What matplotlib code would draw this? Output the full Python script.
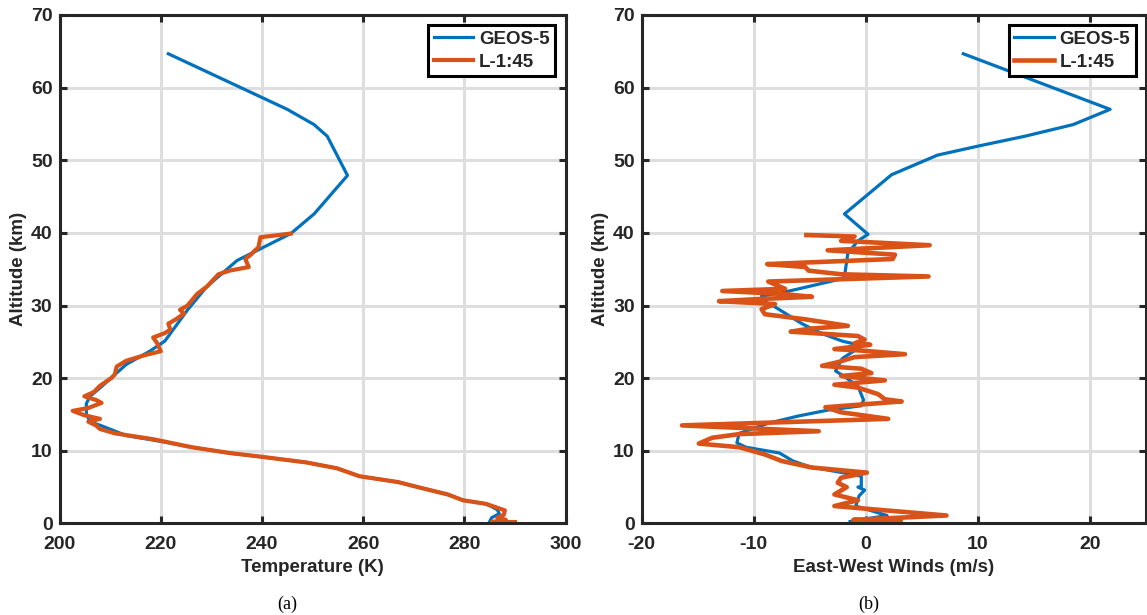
import numpy as np
import matplotlib
matplotlib.use('Agg')
import matplotlib.pyplot as plt

# GEOS-5 temperature profile
geos_temp = [285.0, 285.4, 286.9, 286.5, 284.3, 279.7, 276.7, 271.4, 266.9, 259.3,
             254.8, 248.8, 239.7, 233.6, 226.1, 220.0, 213.2, 208.1, 206.0, 205.3,
             205.3, 206.0, 207.9, 213.2, 217.8, 220.8, 225.3, 229.1, 235.1, 245.7,
             250.3, 256.9, 252.9, 250.3, 245.0, 221.5]
geos_temp_alt = [0.27, 0.8, 1.35, 1.9, 2.7, 3.2, 4.0, 4.9, 5.7, 6.5,
                 7.6, 8.4, 9.2, 9.7, 10.5, 11.3, 12.1, 13.5, 14.0, 15.1,
                 16.5, 17.5, 18.6, 21.9, 23.7, 25.1, 29.4, 32.6, 36.2, 39.9,
                 42.6, 47.9, 53.3, 54.9, 57.0, 64.65]

# lidar temperature L-1:45
lidar_temp = [290.0, 285.4, 288.2, 286.5, 287.8, 288.0, 284.3, 279.7, 276.7, 271.4,
              266.9, 259.3, 254.8, 248.8, 239.7, 233.6, 226.1, 218.5, 211.0, 208.0,
              207.2, 205.7, 208.0, 204.9, 202.6, 205.7, 208.3, 207.2, 204.9, 206.8,
              207.9, 210.2, 210.9, 211.3, 213.2, 217.0, 220.0, 219.3, 218.5, 220.8,
              221.9, 221.5, 223.0, 224.6, 223.8, 225.3, 227.2, 229.1, 231.4, 233.6,
              237.4, 236.7, 237.8, 238.5, 239.3, 239.7, 245.7]
lidar_temp_alt = [0.2, 0.2, 0.5, 0.8, 1.2, 1.8, 2.7, 3.2, 4.0, 4.9,
                  5.7, 6.5, 7.6, 8.4, 9.2, 9.7, 10.5, 11.6, 12.4, 13.0,
                  13.5, 14.0, 14.4, 14.9, 15.5, 15.9, 16.6, 17.0, 17.5, 18.1,
                  18.9, 20.0, 20.5, 21.6, 22.4, 23.2, 23.7, 24.8, 25.6, 26.2,
                  26.7, 27.5, 28.1, 28.9, 29.4, 30.0, 31.6, 32.6, 34.3, 34.8,
                  35.3, 36.4, 37.0, 37.5, 38.0, 39.4, 39.9]

# GEOS-5 zonal wind
geos_wind = [-1.4, 1.9, -0.9, -0.6, -0.1, -0.7, -0.4, -0.4, -2.1, -5.0,
             -6.5, -7.7, -10.7, -11.5, -11.3, -8.7, -6.0, -3.4, -0.4, -0.2,
             -0.7, -1.7, -2.7, -2.1, -1.1, -0.7, -2.1, -4.0, -5.7, -8.3,
             -9.0, -9.3, -7.4, -5.7, -2.1, -1.9, -1.6, -0.7, 0.2, -1.9,
             2.3, 6.4, 10.2, 14.2, 18.5, 21.8, 8.7]
geos_wind_alt = [0.27, 1.1, 2.4, 3.8, 4.6, 5.0, 5.1, 6.5, 7.0, 7.8,
                 8.6, 9.7, 10.5, 11.1, 12.4, 13.8, 14.8, 15.6, 16.2, 17.0,
                 18.9, 20.0, 21.0, 22.7, 23.7, 24.6, 25.1, 26.2, 27.5, 30.0,
                 30.5, 31.3, 31.8, 32.4, 33.7, 34.0, 37.2, 38.9, 39.8, 42.6,
                 48.0, 50.7, 52.0, 53.3, 54.9, 57.0, 64.65]

# lidar zonal wind L-1:45
lidar_wind = [3.1, -1.1, 7.2, -2.8, -0.7, -2.8, -1.7, -2.5, -2.2, 0.1,
              -4.8, -7.5, -9.0, -11.3, -14.9, -13.7, -11.3, -4.2, -16.4, 2.0,
              -2.2, -3.6, 3.2, 1.7, 1.1, -0.7, -2.8, 1.7, -2.2, 0.5,
              -0.4, -3.9, -2.5, -1.0, 3.5, -0.4, -2.8, 0.4, -1.0, -0.1,
              -0.7, -6.7, -5.1, -1.6, -5.4, -9.0, -9.3, -8.1, -13.1, -9.4,
              -4.8, -7.5, -12.8, -7.2, -8.7, 5.6, -2.2, -5.1, -5.4, -8.8,
              2.4, 2.6, -3.4, 5.7, -2.2, -1.0, -5.3]
lidar_wind_alt = [0.2, 0.5, 1.1, 2.4, 3.2, 4.0, 5.0, 5.6, 6.3, 7.0,
                  7.7, 8.6, 9.5, 10.5, 11.0, 11.8, 12.3, 12.7, 13.5, 14.4,
                  15.3, 16.0, 16.8, 17.1, 17.8, 18.7, 19.1, 19.7, 20.3, 20.7,
                  21.3, 21.7, 22.2, 22.9, 23.3, 23.8, 24.0, 24.6, 24.8, 25.3,
                  25.8, 26.4, 26.8, 27.2, 28.1, 28.8, 29.5, 30.2, 30.6, 30.9,
                  31.2, 31.6, 32.0, 32.3, 33.3, 34.0, 34.3, 34.8, 35.3, 35.7,
                  36.4, 37.0, 37.6, 38.3, 38.9, 39.5, 39.7]

temp_ticks = [200, 220, 240, 260, 280, 300]
wind_ticks = [-20, -10, 0, 10, 20]
alt_ticks = [0, 10, 20, 30, 40, 50, 60, 70]

blue = '#0072BD'
orange = '#D95319'
dark = '#262626'

plt.rcParams['font.family'] = ['Liberation Sans', 'DejaVu Sans']
plt.rcParams['font.weight'] = 'bold'
plt.rcParams['axes.labelweight'] = 'bold'
plt.rcParams['axes.unicode_minus'] = False

fig = plt.figure(figsize=(11.47, 6.15), dpi=100)
ax1 = fig.add_axes([0.0519, 0.1488, 0.4412, 0.827])
ax2 = fig.add_axes([0.5594, 0.1488, 0.4397, 0.827])

panels = [
    (ax1, geos_temp, geos_temp_alt, lidar_temp, lidar_temp_alt, (200, 300), temp_ticks, 'Temperature (K)', 3.0),
    (ax2, geos_wind, geos_wind_alt, lidar_wind, lidar_wind_alt, (-20, 25), wind_ticks, 'East-West Winds (m/s)', 3.3),
]

for ax, gx, gy, lx, ly, xlim, xt, xlabel, lw in panels:
    ax.plot(gx, gy, color=blue, lw=2.3, label='GEOS-5', solid_joinstyle='round')
    ax.plot(lx, ly, color=orange, lw=lw, label='L-1:45', solid_joinstyle='round')
    ax.set_xlim(*xlim)
    ax.set_ylim(0, 70)
    ax.set_xticks(xt)
    ax.set_yticks(alt_ticks)
    ax.grid(True, color='#dedede', lw=2.2)
    ax.set_axisbelow(True)
    for s in ax.spines.values():
        s.set_linewidth(2.2)
        s.set_color(dark)
    ax.tick_params(direction='in', top=True, right=True, length=5, width=2.2,
                   color=dark, labelsize=14, labelcolor=dark, pad=5)
    ax.tick_params(axis='x', pad=9)
    ax.set_xlabel(xlabel, fontsize=13.5, color=dark, labelpad=4)
    ax.set_ylabel('Altitude (km)', fontsize=13.5, color=dark, labelpad=3)
    leg = ax.legend(loc='upper right', fancybox=False, framealpha=1, edgecolor='black',
                    fontsize=13.5, handlelength=2.1, borderaxespad=0.55,
                    borderpad=0.3, labelspacing=0.3, handletextpad=0.3)
    leg.get_frame().set_linewidth(2.2)
    for t in leg.get_texts():
        t.set_color(dark)

fig.text(0.250, 0.01, '(a)', family=['Liberation Serif'], weight='normal', fontsize=13, ha='center')
fig.text(0.757, 0.01, '(b)', family=['Liberation Serif'], weight='normal', fontsize=13, ha='center')

fig.savefig('out.png', dpi=100)
